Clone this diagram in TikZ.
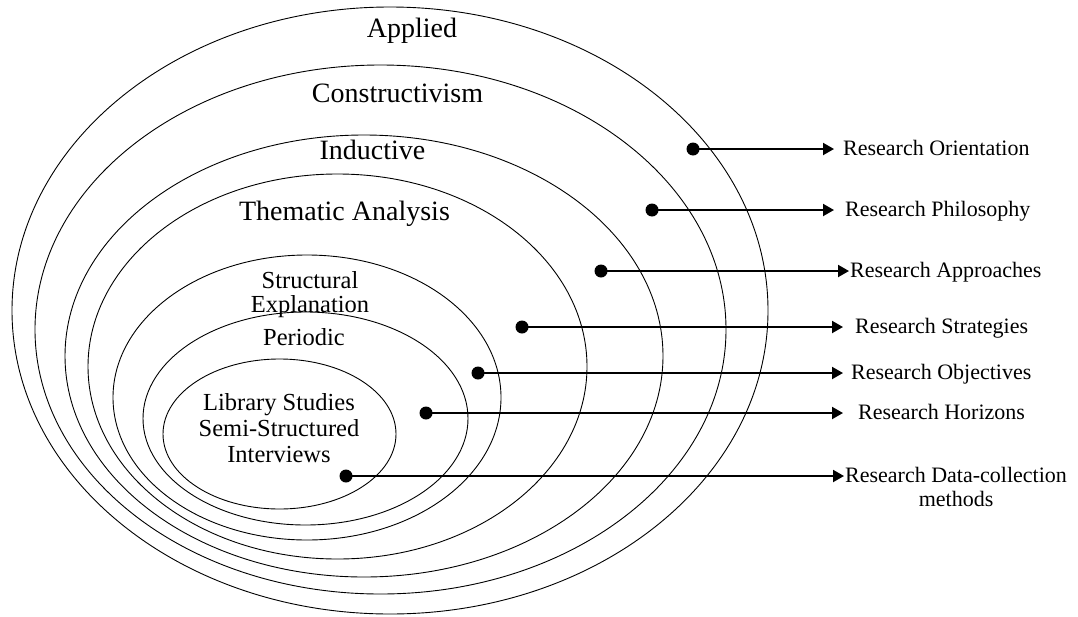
\documentclass[tikz,border=0pt]{standalone}
\usepackage{fontspec}
\setmainfont{Liberation Serif}
\usetikzlibrary{shapes.geometric,arrows.meta}
\tikzset{
  ring/.style={draw, ellipse, inner sep=0pt, line width=0.9pt},
  dotnode/.style={circle, fill=black, inner sep=0pt, minimum size=13pt},
  arr/.style={line width=2pt, -{Triangle[length=11pt,width=12pt]}},
  biglbl/.style={anchor=base, inner sep=0pt, font=\fontsize{28}{30}\selectfont},
  midlbl/.style={anchor=base, inner sep=0pt, font=\fontsize{24.5}{24}\selectfont},
  sidelbl/.style={anchor=base west, inner sep=0pt, font=\fontsize{22}{24}\selectfont}
}
\begin{document}
\begin{tikzpicture}[x=1pt,y=-1pt]
\useasboundingbox (0,0) rectangle (1078,616);
% rings
\node[ring, minimum width=756pt, minimum height=607pt] (e1) at (390,310.5) {};
\node[ring, minimum width=691pt, minimum height=529pt] (e2) at (380.5,329.5) {};
\node[ring, minimum width=598pt, minimum height=442pt] (e3) at (364,356) {};
\node[ring, minimum width=499pt, minimum height=385pt] (e4) at (337.5,366.5) {};
\node[ring, minimum width=388pt, minimum height=285pt] (e5) at (307,397.5) {};
\node[ring, minimum width=325pt, minimum height=213pt] (e6) at (305.5,418.5) {};
\node[ring, minimum width=233pt, minimum height=150pt] (e7) at (279.5,434) {};
% ring labels
\node[biglbl] (l1) at (412,37) {Applied};
\node[biglbl] (l2) at (397.5,102) {Constructivism};
\node[biglbl] (l3) at (372.5,159) {Inductive};
\node[biglbl] (l4) at (344.5,220) {Thematic Analysis};
\node[midlbl] (l5) at (310,288) {\begin{tabular}[t]{@{}c@{}}Structural\\Explanation\end{tabular}};
\node[midlbl] (l6) at (304,345) {Periodic};
\node[anchor=base, inner sep=0pt, font=\fontsize{24.5}{26}\selectfont] (l7) at (279,410) {\begin{tabular}[t]{@{}c@{}}Library Studies\\Semi-Structured\\Interviews\end{tabular}};
% dots
\node[dotnode] (d1) at (693,149) {};
\node[dotnode] (d2) at (652,210) {};
\node[dotnode] (d3) at (601,271) {};
\node[dotnode] (d4) at (522,327) {};
\node[dotnode] (d5) at (478,373) {};
\node[dotnode] (d6) at (426,413) {};
\node[dotnode] (d7) at (346,476) {};
% arrow tips
\coordinate (t1) at (834,149);
\coordinate (t2) at (834,210);
\coordinate (t3) at (849,271);
\coordinate (t4) at (843,327);
\coordinate (t5) at (843,373);
\coordinate (t6) at (843,413);
\coordinate (t7) at (844,476);
\draw[arr] (d1.center) -- (t1);
\draw[arr] (d2.center) -- (t2);
\draw[arr] (d3.center) -- (t3);
\draw[arr] (d4.center) -- (t4);
\draw[arr] (d5.center) -- (t5);
\draw[arr] (d6.center) -- (t6);
\draw[arr] (d7.center) -- (t7);
% side labels
\node[sidelbl] (r1) at (843,155) {Research Orientation};
\node[sidelbl] (r2) at (845,216) {Research Philosophy};
\node[sidelbl] (r3) at (850,277) {Research Approaches};
\node[sidelbl] (r4) at (855,333) {Research Strategies};
\node[sidelbl] (r5) at (851,379) {Research Objectives};
\node[sidelbl] (r6) at (858,419) {Research Horizons};
\node[sidelbl] (r7) at (845,482) {\begin{tabular}[t]{@{}c@{}}Research Data-collection\\methods\end{tabular}};
\end{tikzpicture}
\end{document}
